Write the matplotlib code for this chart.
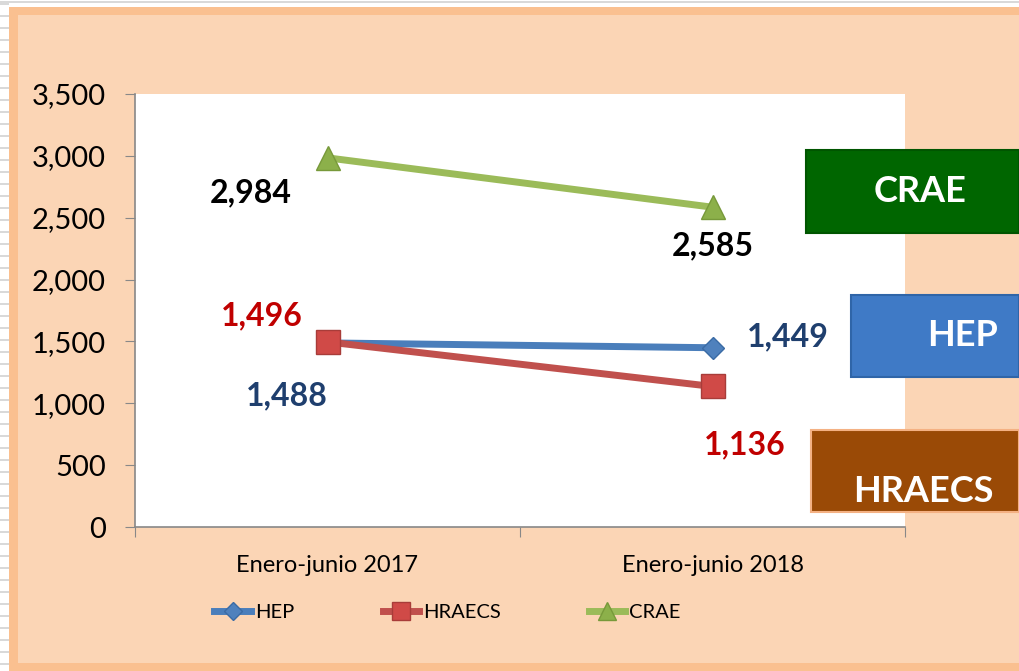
import matplotlib.pyplot as plt
from matplotlib.patches import Rectangle

plt.rcParams['font.family'] = ['Lato', 'DejaVu Sans']

categories = ["Enero-junio 2017", "Enero-junio 2018"]
hep = [1488, 1449]
hraecs = [1496, 1136]
crae = [2984, 2585]
y_ticks = [0, 500, 1000, 1500, 2000, 2500, 3000, 3500]

W, H = 1019, 671
fig = plt.figure(figsize=(W / 100, H / 100), dpi=100)
fig.patch.set_facecolor("white")

# fondo tipo hoja de calculo a la izquierda y arriba
for yy in range(3, H, 12):
    fig.add_artist(Rectangle((0, 1 - (yy + 2) / H), 9 / W, 2 / H,
                             transform=fig.transFigure, color="#d9d9d9", lw=0,
                             zorder=-10))
fig.add_artist(Rectangle((0, 1 - 3 / H), 1, 2 / H, transform=fig.transFigure,
                         color="#d9d9d9", lw=0, zorder=-10))
# marco naranja
fig.add_artist(Rectangle((9 / W, 0), 1, 1 - 7 / H, transform=fig.transFigure,
                         color="#FAC090", lw=0, zorder=-10))
fig.add_artist(Rectangle((18 / W, 8 / H), 1, 1 - 7 / H - 8 / H - 8 / H,
                         transform=fig.transFigure, color="#FBD5B5", lw=0,
                         zorder=-9))

ax = fig.add_axes([135 / W, 1 - 527 / H, 770 / W, 433 / H])
ax.set_facecolor("white")
x = [0.5, 1.5]

ax.plot(x, hep, color="#4A7EBB", lw=5, marker="D", ms=11,
        mfc="#4F81BD", mec="#3A6BA5", label="HEP", zorder=3)
ax.plot(x, hraecs, color="#C0504D", lw=5, marker="s", ms=17,
        mfc="#D04A47", mec="#A83C39", label="HRAECS", zorder=4)
ax.plot(x, crae, color="#9BBB59", lw=5, marker="^", ms=17,
        mfc="#8CB04A", mec="#77993A", label="CRAE", zorder=3)

ax.set_xlim(0, 2)
ax.set_ylim(0, 3500)
ax.set_yticks(y_ticks)
ax.set_yticklabels([f"{v:,}" for v in y_ticks], fontsize=21)
ax.set_xticks([0, 1, 2])
ax.set_xticklabels([])
ax.set_xticks(x, minor=True)
ax.set_xticklabels(categories, minor=True, fontsize=17)
ax.tick_params(axis="x", which="minor", length=0, pad=20)
ax.tick_params(axis="x", which="major", length=7, color="#888888", direction="out")
ax.tick_params(axis="y", length=7, color="#888888", pad=14)
for s in ["top", "right"]:
    ax.spines[s].set_visible(False)
for s in ["left", "bottom"]:
    ax.spines[s].set_color("#888888")
    ax.spines[s].set_linewidth(1.2)

lab = dict(fontsize=23, fontweight="bold", ha="center", va="center", clip_on=False)
ax.text(x[0] - 0.2, crae[0] - 280, f"{crae[0]:,}", color="black", **lab)
ax.text(x[1], crae[1] - 310, f"{crae[1]:,}", color="black", **lab)
ax.text(x[0] - 0.17, hraecs[0] + 210, f"{hraecs[0]:,}", color="#C00000", **lab)
ax.text(x[1] + 0.084, hraecs[1] - 475, f"{hraecs[1]:,}", color="#C00000", **lab)
ax.text(x[0] - 0.105, hep[0] - 430, f"{hep[0]:,}", color="#1F3F6E", **lab)
ax.text(x[1] + 0.195, hep[1] + 90, f"{hep[1]:,}", color="#1F3F6E", **lab)

leg = ax.legend(loc="center", bbox_to_anchor=(0.406, -0.197), ncol=3,
                frameon=False, fontsize=14.5, handlelength=1.8, columnspacing=4.4,
                handletextpad=0.2, markerscale=0.8)

# recuadros de etiquetas a la derecha
boxes = [("CRAE", 806, 150, 233, "#006600", "#005500", 0.5, 8),
         ("HEP", 851, 295, 377, "#3F7AC6", "#2F65A8", 0.5, 28),
         ("HRAECS", 811, 430, 512, "#9A4A06", "#F4B183", 0.75, 8)]
for name, x0, y0, y1, fc, ec, ty, dx in boxes:
    fig.add_artist(Rectangle((x0 / W, 1 - y1 / H), (W - x0) / W, (y1 - y0) / H,
                             transform=fig.transFigure, fc=fc, ec=ec, lw=1.5,
                             zorder=10))
    fig.text((x0 + (W - x0) * 0.5 + dx) / W, 1 - (y0 + (y1 - y0) * ty) / H, name,
             color="white", fontsize=26, fontweight="bold", ha="center",
             va="center", zorder=11)

fig.savefig("out.png", dpi=100)
